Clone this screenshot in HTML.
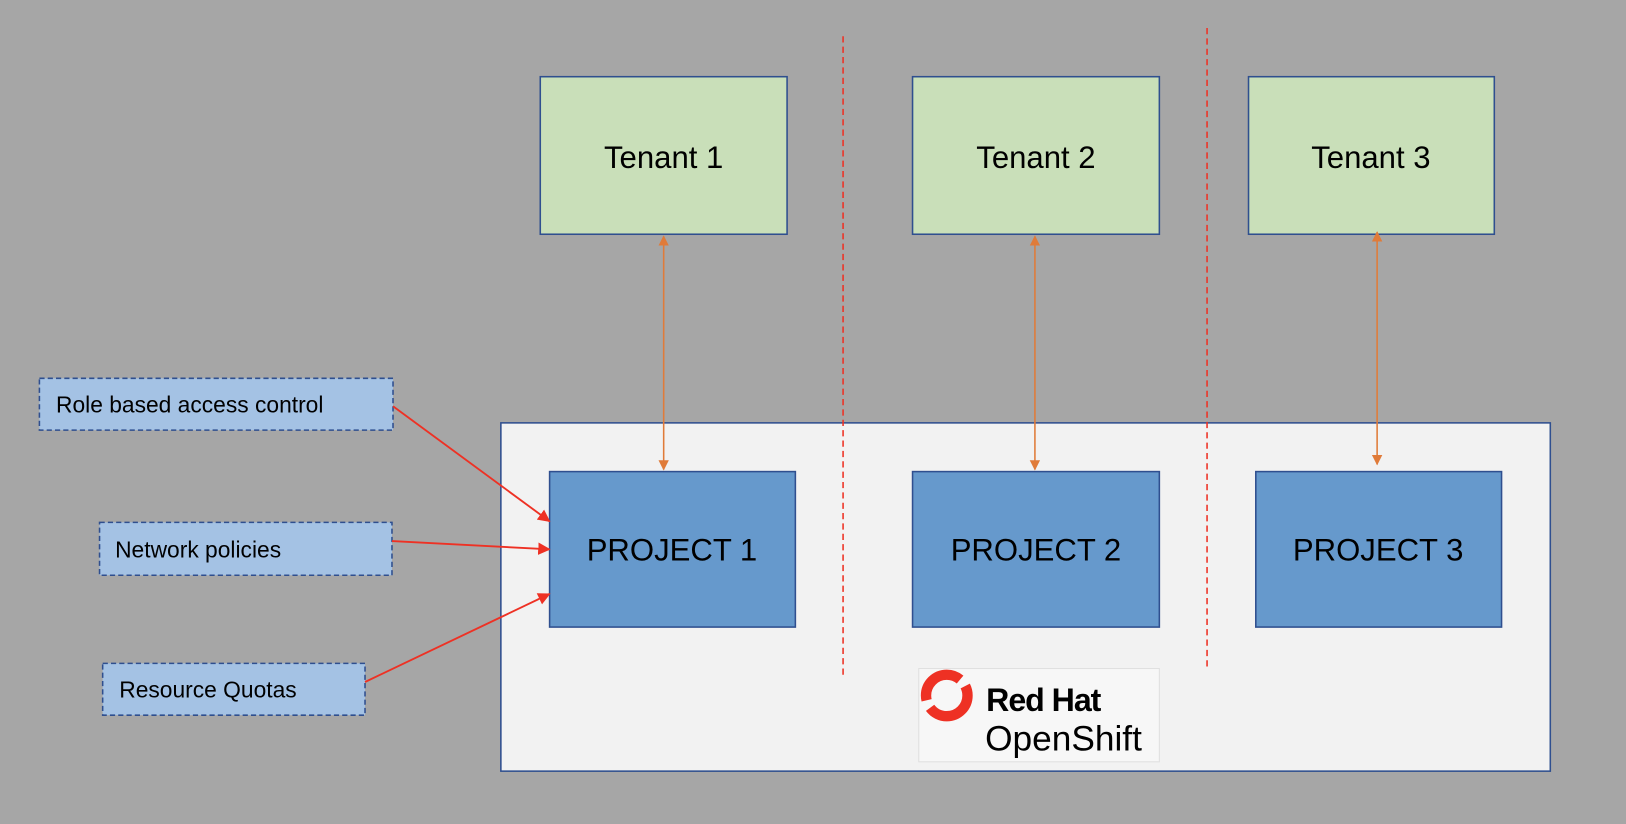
<!DOCTYPE html>
<html><head><meta charset="utf-8"><style>
html,body{margin:0;padding:0;background:#a6a6a6;}
svg{display:block;}
text{font-family:"Liberation Sans",sans-serif;fill:#000;}
</style></head><body>
<svg width="1626" height="824" viewBox="0 0 1568 795" preserveAspectRatio="none" xmlns="http://www.w3.org/2000/svg">
<defs>
<marker id="ao" markerWidth="10" markerHeight="10" refX="9" refY="5" orient="auto-start-reverse" markerUnits="userSpaceOnUse"><path d="M0,0 L10,5 L0,10 z" fill="#e07b39"/></marker>
<marker id="ar" markerWidth="12" markerHeight="12" refX="11" refY="6" orient="auto" markerUnits="userSpaceOnUse"><path d="M0,0 L12,6 L0,12 z" fill="#ee3124"/></marker>
</defs>
<rect width="1568" height="795" fill="#a6a6a6"/>
<rect x="483" y="408" width="1012" height="336" fill="#f2f2f2" stroke="#2f4f8f" stroke-width="1.5"/>
<line x1="813" y1="35" x2="813" y2="652" stroke="#ee3124" stroke-width="1.5" stroke-dasharray="6,4"/>
<line x1="1164" y1="27" x2="1164" y2="643" stroke="#ee3124" stroke-width="1.5" stroke-dasharray="6,4"/>
<g stroke="#2f4f8f" stroke-width="1.5" fill="#c9dfb9">
<rect x="521" y="74" width="238" height="152"/>
<rect x="880" y="74" width="238" height="152"/>
<rect x="1204" y="74" width="237" height="152"/>
</g>
<g font-size="30" text-anchor="middle">
<text x="640" y="162">Tenant 1</text>
<text x="999" y="162">Tenant 2</text>
<text x="1322" y="162">Tenant 3</text>
</g>
<g stroke="#2f4f8f" stroke-width="1.5" fill="#6699cc">
<rect x="530" y="455" width="237" height="150"/>
<rect x="880" y="455" width="238" height="150"/>
<rect x="1211" y="455" width="237" height="150"/>
</g>
<g font-size="30" text-anchor="middle">
<text x="648" y="541">PROJECT 1</text>
<text x="999" y="541">PROJECT 2</text>
<text x="1329" y="541">PROJECT 3</text>
</g>
<g stroke="#e07b39" stroke-width="1.5">
<line x1="640" y1="228" x2="640" y2="453" marker-end="url(#ao)" marker-start="url(#ao)"/>
<line x1="998" y1="228" x2="998" y2="453" marker-end="url(#ao)" marker-start="url(#ao)"/>
<line x1="1328" y1="224" x2="1328" y2="448" marker-end="url(#ao)" marker-start="url(#ao)"/>
</g>
<g stroke="#2f4f8f" stroke-width="1.5" stroke-dasharray="5,3" fill="#a4c2e4">
<rect x="38" y="365" width="341" height="50"/>
<rect x="96" y="504" width="282" height="51"/>
<rect x="99" y="640" width="253" height="50"/>
</g>
<g font-size="22">
<text x="54" y="398">Role based access control</text>
<text x="111" y="538">Network policies</text>
<text x="115" y="673">Resource Quotas</text>
</g>
<g stroke="#ee3124" stroke-width="1.8">
<line x1="379" y1="392" x2="530" y2="503" marker-end="url(#ar)"/>
<line x1="378" y1="522" x2="530" y2="530" marker-end="url(#ar)"/>
<line x1="352" y1="658" x2="530" y2="573" marker-end="url(#ar)"/>
</g>
<rect x="886" y="645" width="232" height="90" fill="#f7f7f7" stroke="#e0e0e0" stroke-width="1"/>
<circle cx="913" cy="671" r="20" fill="none" stroke="#ee3124" stroke-width="10" stroke-dasharray="50,8"/>
<text x="951" y="686" font-size="31" font-weight="bold" letter-spacing="-1">Red Hat</text>
<text x="950" y="724" font-size="34">OpenShift</text>
</svg>
</body></html>
